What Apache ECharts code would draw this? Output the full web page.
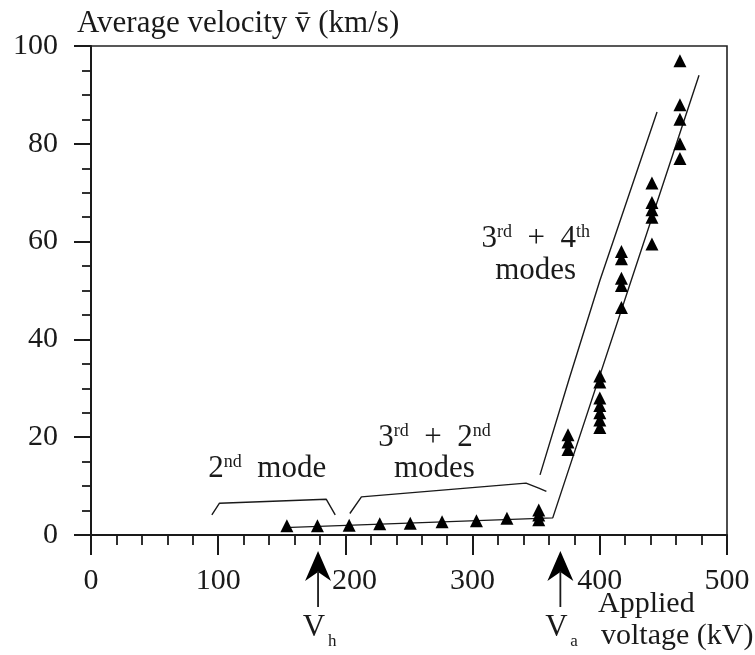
<!DOCTYPE html>
<html><head><meta charset="utf-8">
<script src="https://cdn.jsdelivr.net/npm/echarts@6/dist/echarts.min.js"></script>
<style>html,body{margin:0;padding:0;background:#fff}#c{width:755px;height:655px}</style>
</head><body><div id="c"></div>
<script>
// ---- data ----
const xTickValues = [0, 100, 200, 300, 400, 500];
const yTickValues = [0, 20, 40, 60, 80, 100];
const lowVoltage  = [154, 178, 203, 227, 251, 276, 303, 327, 352, 352, 352];
const lowVelocity = [1.9, 1.9, 2.0, 2.3, 2.4, 2.7, 2.9, 3.4, 3.1, 4.1, 5.1];
const highVoltage  = [375, 375, 375, 400, 400, 400, 400, 400, 400, 400, 417, 417, 417, 417, 417, 441, 441, 441, 441, 441, 463, 463, 463, 463, 463];
const highVelocity = [17.5, 19, 20.5, 22, 23.5, 25, 26.5, 28, 31.3, 32.5, 46.5, 51, 52.5, 56.5, 58, 59.5, 65, 66.5, 68, 72, 77, 80, 85, 88, 97];
const lowerFitX = [152, 363, 478];
const lowerFitY = [1.5, 3.5, 94];
const upperFitX = [353, 376, 400, 445];
const upperFitY = [12.3, 32, 52, 86.5];
const bracket2X = [95, 101, 185, 192];
const bracket2Y = [4.1, 6.5, 7.3, 4.1];
const bracket32X = [203.5, 212.6, 342, 352, 358];
const bracket32Y = [4.4, 7.8, 10.6, 9.6, 8.9];
const arrowVoltages = [178.5, 369];
const arrowSubs = ['h', 'a'];
const labelSecondMode = { x: 138.6, y: 13.6 };
const label32 = { x: 270, y: 19.9, y2: 13.6 };
const label34 = { x: 349.6, y: 60.5, y2: 54.1 };

const zip = (a, b) => a.map((v, i) => [v, b[i]]);
const FONT = '"Liberation Serif", "DejaVu Serif", serif';
const INK = '#1a1a1a';

const chart = echarts.init(document.getElementById('c'), null, { renderer: 'canvas' });
const lineStyle = { color: '#1a1a1a', width: 1.4 };
const lineSeries = (d) => ({ type: 'line', data: d, showSymbol: false, symbol: 'none', lineStyle, z: 2, silent: true, animation: false });

chart.setOption({
  animation: false,
  backgroundColor: '#fff',
  grid: { left: 91, right: 28, top: 46, bottom: 120, show: true, borderColor: '#222', borderWidth: 1.6, backgroundColor: 'transparent' },
  xAxis: {
    type: 'value', min: 0, max: 500, interval: 100,
    axisLine: { show: true, lineStyle: { color: INK, width: 2 } },
    axisTick: { show: true, length: 20, lineStyle: { color: INK, width: 2 } },
    minorTick: { show: true, splitNumber: 5, length: 10, lineStyle: { color: INK, width: 1.8 } },
    splitLine: { show: false },
    axisLabel: {
      margin: 31, color: INK, fontFamily: FONT, fontSize: 30,
      formatter: v => v === 200 ? '{r|' + v + '}' : String(v),
      rich: { r: { padding: [0, 0, 0, 18], fontSize: 30, fontFamily: FONT, color: INK } }
    }
  },
  yAxis: {
    type: 'value', min: 0, max: 100, interval: 20,
    axisLine: { show: true, lineStyle: { color: INK, width: 2 } },
    axisTick: { show: true, length: 17, lineStyle: { color: INK, width: 2 } },
    minorTick: { show: true, splitNumber: 4, length: 9, lineStyle: { color: INK, width: 1.8 } },
    splitLine: { show: false },
    axisLabel: { margin: 33, color: INK, fontFamily: FONT, fontSize: 30 }
  },
  series: [
    lineSeries(zip(lowerFitX, lowerFitY)),
    lineSeries(zip(upperFitX, upperFitY)),
    lineSeries(zip(bracket2X, bracket2Y)),
    lineSeries(zip(bracket32X, bracket32Y)),
    { type: 'scatter', data: zip(lowVoltage, lowVelocity), symbol: 'triangle', symbolSize: [13, 13], itemStyle: { color: '#000', opacity: 1 }, z: 3 },
    { type: 'scatter', data: zip(highVoltage, highVelocity), symbol: 'triangle', symbolSize: [13, 13], itemStyle: { color: '#000', opacity: 1 }, z: 3 }
  ]
});

const px = (x, y) => chart.convertToPixel({ gridIndex: 0 }, [x, y]);
const sup = { fontSize: 18, fontFamily: FONT, fill: INK, verticalAlign: 'top' };
const txt = (x, y, text, opts) => Object.assign({
  type: 'text', x, y, silent: true,
  style: Object.assign({ text, fontFamily: FONT, fontSize: 31, fill: INK, align: 'center', verticalAlign: 'middle', rich: { s: sup } }, opts || {})
});

const g = [];
// title & axis name
g.push(txt(77, 23.5, 'Average velocity v\u0304 (km/s)', { align: 'left' }));
g.push(txt(598, 604, 'Applied', { align: 'left', fontSize: 30 }));
g.push(txt(601, 636, 'voltage (kV)', { align: 'left', fontSize: 30 }));
// mode annotations
let p = px(labelSecondMode.x, labelSecondMode.y);
g.push(txt(p[0], p[1], '2{s|nd}  mode'));
p = px(label32.x, label32.y);
g.push(txt(p[0], p[1], '3{s|rd}  +  2{s|nd}'));
p = px(label32.x, label32.y2);
g.push(txt(p[0], p[1], 'modes'));
p = px(label34.x, label34.y);
g.push(txt(p[0], p[1], '3{s|rd}  +  4{s|th}'));
p = px(label34.x, label34.y2);
g.push(txt(p[0], p[1], 'modes'));
// V arrows
arrowVoltages.forEach((v, i) => {
  const q = px(v, 0);
  const ax = q[0], ay = q[1];
  g.push({ type: 'polygon', silent: true, shape: { points: [[ax, ay + 16], [ax - 13, ay + 46], [ax, ay + 37], [ax + 13, ay + 46]] }, style: { fill: '#000' } });
  g.push({ type: 'line', silent: true, shape: { x1: ax, y1: ay + 36, x2: ax, y2: ay + 72 }, style: { stroke: '#1a1a1a', lineWidth: 1.8 } });
  g.push(txt(ax - 4, ay + 93, 'V', { fontSize: 31 }));
  g.push(txt(ax + 10, ay + 107, arrowSubs[i], { fontSize: 17, align: 'left' }));
});
chart.setOption({ graphic: { elements: g } });
</script>
</body></html>
